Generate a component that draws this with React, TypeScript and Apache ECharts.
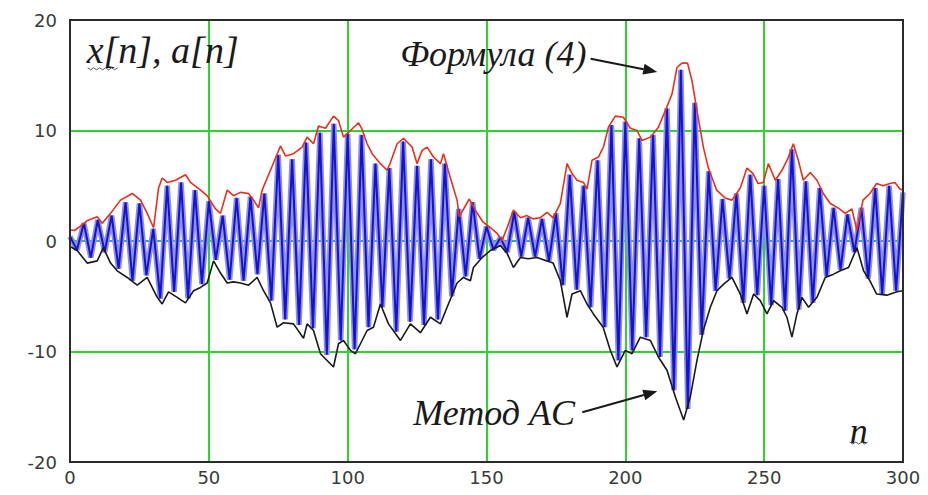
import { useEffect, useRef } from 'react';
import * as echarts from 'echarts';

// Upper envelope a[n] — "Формула (4)" (red)
const RED_ENVELOPE: [number, number][] = [
  [0, 1.0], [1.6, 0.95], [4, 1.4], [6.2, 1.85], [9.8, 2.2], [11.6, 1.6], [14.6, 2.5], [18.2, 3.7],
  [22.4, 4.3], [25.4, 3.7], [27.8, 2.5], [30.1, 1.2], [31.9, 4.8], [33.2, 5.7], [35, 5.3], [38, 5.5],
  [41.6, 6.0], [43.4, 5.3], [47, 4.6], [49.4, 4.1], [52.4, 2.9], [54.2, 2.5], [56.6, 4.6], [58.9, 4.1],
  [61.4, 4.4], [64.3, 4.3], [66.1, 3.7], [67.9, 3.0], [69.2, 4.6], [72.2, 6.4], [75.8, 8.6], [77.6, 7.7],
  [80.5, 7.9], [83.6, 8.5], [85.4, 9.4], [87.7, 8.8], [89.5, 10.4], [92, 10.2], [94.9, 11.3], [96.7, 10.9],
  [98.5, 9.4], [101, 10.0], [103.9, 10.7], [105.2, 10.1], [107, 8.8], [108.8, 7.9], [111.8, 7.0], [114.2, 6.4],
  [115.4, 7.1], [117.8, 8.8], [120.1, 9.3], [123.2, 8.5], [125, 7.0], [126.8, 8.2], [128.6, 8.5], [130.9, 7.6],
  [133.4, 7.0], [134.5, 7.9], [137, 5.7], [139.4, 3.7], [140.2, 2.2], [143.8, 3.8], [146.4, 2.6], [148.8, 1.7],
  [151.4, 1.2], [153.8, 0.7], [155.6, 0.05], [157.4, 1.2], [159.7, 2.8], [162.2, 2.1], [164.6, 2.3], [166.8, 2.0],
  [169.3, 2.1], [171.8, 2.6], [174, 2.1], [176.6, 3.4], [179, 7.0], [180.8, 6.1], [182.6, 5.5], [184.9, 5.3],
  [186.2, 4.7], [188, 7.3], [190.3, 7.6], [192.1, 8.5], [193.9, 10.3], [196.4, 11.3], [199.3, 11.2], [201.8, 10.2],
  [204.2, 10.0], [206, 9.1], [209, 9.4], [211.9, 10.3], [214.4, 11.8], [216.8, 13.3], [218.6, 15.7], [220.4, 16.1],
  [222.4, 16.1], [224, 14.5], [225.8, 11.8], [228.1, 8.5], [229.9, 6.6], [232.9, 4.6], [235.9, 3.9], [238.4, 3.7],
  [241.4, 4.8], [243.8, 6.6], [246, 6.1], [247.8, 5.2], [249.7, 5.3], [251.5, 7.0], [254, 5.5], [256.4, 6.4],
  [258.6, 7.5], [260.5, 8.8], [262.3, 7.3], [264.1, 5.5], [266.6, 6.2], [269, 5.5], [271.3, 4.3], [273.8, 3.4],
  [276.6, 3.0], [279.2, 2.5], [281.6, 2.9], [283.4, 0.95], [285.6, 3.7], [288.1, 4.3], [290.5, 5.2], [292.8, 5.0],
  [295.3, 5.2], [297.1, 5.3], [298.9, 4.7], [300, 4.6],
];

// Lower envelope — "Метод AC" (black)
const BLACK_ENVELOPE: [number, number][] = [
  [0, -0.5], [2.6, -0.86], [6.2, -2.0], [9.8, -1.8], [12, -0.6], [14.6, -2.0], [17, -2.7], [20.6, -3.3],
  [24.2, -4.0], [27.8, -3.3], [31.4, -5.1], [33.2, -5.7], [35.5, -4.6], [38.6, -5.1], [41.6, -5.6], [44.5, -4.5],
  [47, -4.2], [49.4, -3.8], [51.7, -1.8], [54.2, -2.9], [56.6, -3.8], [58.9, -3.7], [61.4, -3.8], [64.3, -4.0],
  [67.4, -3.3], [69.7, -4.5], [72.2, -5.6], [74.6, -7.8], [76.9, -7.4], [80.5, -7.5], [84.1, -8.8], [85.4, -7.5],
  [87.7, -8.1], [90.2, -10.2], [94.9, -11.4], [96.7, -9.3], [98.5, -9.0], [101, -9.9], [102.8, -10.2], [104.6, -9.3],
  [107, -8.1], [109.3, -7.8], [111.8, -5.7], [114.7, -7.5], [119, -9.0], [122.6, -7.5], [126.2, -8.3], [129.8, -6.9],
  [133.4, -7.5], [135.8, -6.0], [139.4, -3.8], [141.7, -3.3], [144.2, -3.6], [145.3, -2.4], [148.4, -1.5], [151.4, -0.86],
  [155, -0.4], [157.4, -1.1], [159.7, -2.4], [162.2, -1.5], [165, -1.6], [168.2, -1.5], [171.8, -1.8], [174, -2.0],
  [176.6, -3.6], [179, -6.9], [180.8, -4.8], [183.8, -4.5], [186.2, -5.7], [188.5, -6.6], [192, -7.8], [194.6, -9.9],
  [197, -11.4], [200, -9.9], [202.4, -10.2], [205.4, -8.7], [209, -9.0], [211.9, -10.5], [215, -11.7], [218, -14.1],
  [221, -16.2], [223.4, -14.1], [225.8, -10.8], [228.1, -8.1], [230.6, -6.0], [233, -4.5], [235.4, -3.9], [238.4, -3.3],
  [241.4, -4.8], [243.8, -6.6], [246.2, -4.8], [248.6, -5.4], [251, -6.6], [253.4, -5.4], [256.4, -6.0], [258.2, -6.9],
  [260, -8.7], [261.8, -6.6], [263.6, -5.1], [266, -6.0], [269, -5.1], [272, -3.3], [275, -3.0], [277.4, -2.7],
  [280.4, -2.4], [283.4, -0.6], [285.8, -2.7], [288.1, -3.6], [290.5, -4.8], [294.2, -4.9], [297.8, -4.6], [300, -4.5],
];

// Signal x[n] (blue) — successive extrema
const SIGNAL: [number, number][] = [
  [0, 0.4], [2.5, -0.8], [5, 1.6], [7.5, -1.5], [10, 1.9], [12.5, -1.0], [15, 2.3], [17.5, -2.5],
  [20, 3.5], [22.5, -3.6], [25, 3.4], [27.5, -3.1], [30, 1.1], [32.5, -5.2], [35, 5.0], [37.5, -4.6],
  [40, 5.3], [42.5, -5.2], [45, 4.6], [47.5, -3.9], [50, 3.6], [52.5, -1.7], [55, 2.3], [57.5, -3.5],
  [60, 3.9], [62.5, -3.6], [65, 4.0], [67.5, -3.0], [70, 4.3], [72.5, -5.4], [75, 7.8], [77.5, -7.1],
  [80, 7.4], [82.5, -7.6], [85, 8.9], [87.5, -7.9], [90, 9.8], [92.5, -10.3], [95, 10.6], [97.5, -9.0],
  [100, 9.7], [102.5, -9.8], [105, 9.6], [107.5, -7.8], [110, 7.0], [112.5, -6.0], [115, 6.6], [117.5, -8.2],
  [120, 9.0], [122.5, -7.3], [125, 6.8], [127.5, -7.6], [130, 7.4], [132.5, -7.1], [135, 7.0], [137.5, -5.0],
  [140, 2.9], [142.5, -3.2], [145, 3.5], [147.5, -1.6], [150, 1.3], [152.5, -0.8], [155, 0.3], [157.5, -1.0],
  [160, 2.6], [162.5, -1.4], [165, 2.1], [167.5, -1.4], [170, 2.0], [172.5, -1.8], [175, 2.5], [177.5, -4.0],
  [180, 6.0], [182.5, -4.4], [185, 5.0], [187.5, -6.0], [190, 7.3], [192.5, -7.8], [195, 10.5], [197.5, -10.8],
  [200, 10.8], [202.5, -9.9], [205, 9.3], [207.5, -8.7], [210, 9.6], [212.5, -10.5], [215, 12.0], [217.5, -13.5],
  [220, 15.5], [222.5, -15.2], [225, 12.5], [227.5, -8.5], [230, 6.3], [232.5, -4.5], [235, 3.8], [237.5, -3.4],
  [240, 4.3], [242.5, -5.6], [245, 6.0], [247.5, -4.9], [250, 5.0], [252.5, -5.8], [255, 5.6], [257.5, -6.3],
  [260, 8.3], [262.5, -6.2], [265, 5.4], [267.5, -5.6], [270, 4.8], [272.5, -3.2], [275, 3.0], [277.5, -2.6],
  [280, 2.4], [282.5, -1.0], [285, 3.0], [287.5, -3.4], [290, 4.8], [292.5, -4.8], [295, 5.0], [297.5, -4.5],
  [300, 4.4],
];

const X_TICKS = { min: 0, max: 300, interval: 50 };
const Y_TICKS = { min: -20, max: 20, interval: 10 };

// Annotation anchors in data coordinates
const LABEL_Y_AXIS = { text: 'x[n], a[n]', at: [6.0, 17.3] };
const LABEL_FORMULA = { text: 'Формула (4)', at: [118.9, 16.9], arrowFrom: [187.5, 16.5], arrowTo: [211.5, 15.3] };
const LABEL_METHOD = { text: 'Метод AC', at: [123.6, -15.6], arrowFrom: [184.5, -15.5], arrowTo: [211.5, -13.6] };
const LABEL_X_AXIS = { text: 'n', at: [280.8, -17.2] };

const TEXT_FONT = '"Liberation Serif", "Times New Roman", serif';

export default function App() {
  const ref = useRef<HTMLDivElement>(null);

  useEffect(() => {
    const chart = echarts.init(ref.current!, null, { renderer: 'svg' });
    const green = '#2ed42e';
    chart.setOption({
      animation: false,
      backgroundColor: '#ffffff',
      grid: { left: 70, right: 25, top: 20, bottom: 33, containLabel: false },
      xAxis: {
        type: 'value',
        ...X_TICKS,
        axisLine: { show: false },
        axisTick: { show: false },
        axisLabel: { color: '#3a3a3a', fontSize: 18, fontFamily: '"DejaVu Sans", sans-serif', margin: 6 },
        splitLine: { show: true, lineStyle: { color: green, width: 2 } },
      },
      yAxis: {
        type: 'value',
        ...Y_TICKS,
        axisLine: { show: false },
        axisTick: { show: false },
        axisLabel: { color: '#3a3a3a', fontSize: 18, fontFamily: '"DejaVu Sans", sans-serif', margin: 13 },
        splitLine: {
          show: true,
          lineStyle: { color: [green, green, '#2aa8b4', green, green], width: 2 },
        },
      },
      series: [
        {
          type: 'line', data: SIGNAL, symbol: 'none', z: 1, silent: true,
          lineStyle: { color: '#8e8ef0', width: 5.5 },
        },
        {
          type: 'line', data: SIGNAL, symbol: 'none', z: 2,
          lineStyle: { color: '#1414c8', width: 2 },
        },
        {
          type: 'line', data: RED_ENVELOPE, symbol: 'none', z: 3,
          lineStyle: { color: '#e8301c', width: 1.6 },
        },
        {
          type: 'line', data: BLACK_ENVELOPE, symbol: 'none', z: 4,
          lineStyle: { color: '#1a1a1a', width: 1.6 },
        },
      ],
    });

    const px = (p: number[]) => chart.convertToPixel({ gridIndex: 0 }, p) as number[];
    const tl = px([X_TICKS.min, Y_TICKS.max]);
    const br = px([X_TICKS.max, Y_TICKS.min]);

    const arrow = (from: number[], to: number[]) => {
      const a = px(from);
      const b = px(to);
      const dx = b[0] - a[0];
      const dy = b[1] - a[1];
      const len = Math.hypot(dx, dy);
      const ux = dx / len, uy = dy / len;
      const hl = 14, hw = 5.5;
      const bx = b[0] - ux * hl, by = b[1] - uy * hl;
      return [
        { type: 'line', shape: { x1: a[0], y1: a[1], x2: bx, y2: by }, style: { stroke: '#1a1a1a', lineWidth: 2 }, z: 20 },
        {
          type: 'polygon',
          shape: { points: [[b[0], b[1]], [bx - uy * hw, by + ux * hw], [bx + uy * hw, by - ux * hw]] },
          style: { fill: '#1a1a1a' }, z: 20,
        },
      ];
    };

    const label = (l: { text: string; at: number[] }, size: number) => {
      const p = px(l.at);
      return {
        type: 'text', x: p[0], y: p[1], z: 20,
        style: {
          text: l.text, fill: '#1a1a1a', fontSize: size, fontFamily: TEXT_FONT, fontStyle: 'italic',
          align: 'left', verticalAlign: 'middle',
        },
      };
    };

    const squiggle = (x0: number, y0: number, w: number) => {
      const pts: number[][] = [];
      const step = 3;
      for (let i = 0; i * step <= w; i++) pts.push([x0 + i * step, y0 + (i % 2 ? 2 : 0)]);
      return { type: 'polyline', shape: { points: pts }, style: { stroke: '#556', lineWidth: 1, fill: null }, z: 20 };
    };

    const pY = px(LABEL_Y_AXIS.at);
    const pN = px(LABEL_X_AXIS.at);

    chart.setOption({
      graphic: [
        {
          type: 'rect', shape: { x: tl[0], y: tl[1], width: br[0] - tl[0], height: br[1] - tl[1] },
          style: { fill: null, stroke: '#2b2b2b', lineWidth: 2 }, z: 15,
        },
        label(LABEL_Y_AXIS, 38),
        label(LABEL_FORMULA, 36),
        label(LABEL_METHOD, 36),
        label(LABEL_X_AXIS, 36),
        squiggle(pY[0] + 1, pY[1] + 18, 32),
        squiggle(pN[0], pN[1] + 11, 18),
        ...arrow(LABEL_FORMULA.arrowFrom, LABEL_FORMULA.arrowTo),
        ...arrow(LABEL_METHOD.arrowFrom, LABEL_METHOD.arrowTo),
      ],
    });

    return () => chart.dispose();
  }, []);

  return <div ref={ref} style={{ position: 'fixed', left: 0, top: 0, width: 928, height: 495 }} />;
}
